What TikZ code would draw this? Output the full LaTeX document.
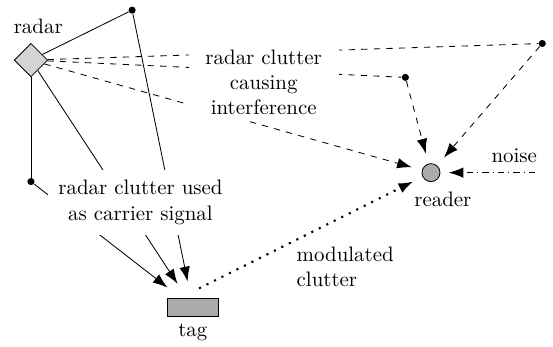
\documentclass[tikz,border=0pt]{standalone}
\usetikzlibrary{arrows.meta}
\usetikzlibrary{shapes.geometric}
\usetikzlibrary{positioning}
\usetikzlibrary{backgrounds}

\begin{document}
\begin{tikzpicture}[>={Latex[length=7pt,width=5pt]},
  scatterer/.style={circle, fill=black, inner sep=0, minimum size=3.4pt},
  covertext/.style={fill=white, align=center}]
\useasboundingbox (0,0) rectangle (9.29,5.82);
% radar, tag and reader
\node[diamond, draw, fill=black!17, inner sep=0, minimum size=16pt] (radar) at (0.52,4.81) {};
\node[above=1pt of radar, xshift=3.5pt] (radarlbl) {radar};
\node[rectangle, draw, fill=black!33, minimum width=24.4pt, minimum height=8.6pt, inner sep=0] (tag) at (3.24,0.66) {};
\node[below=0pt of tag] (taglbl) {tag};
\node[circle, draw, fill=black!33, minimum size=8.6pt, inner sep=0] (reader) at (7.24,2.92) {};
\node[below=1pt of reader, xshift=5.7pt] (readerlbl) {reader};
% scattering points
\node[scatterer] (sA) at (2.22,5.65) {};
\node[scatterer] (sB) at (0.52,2.77) {};
\node[scatterer] (sC) at (6.81,4.52) {};
\node[scatterer] (sD) at (9.11,5.09) {};
\coordinate (noisesrc) at (8.99,2.92);
% texts
\node[covertext, inner xsep=8pt, inner ysep=3pt] (intf) at (4.43,4.44) {radar clutter\\causing\\interference};
\node[covertext, inner xsep=5pt, inner ysep=5pt] (carrier) at (2.36,2.42) {radar clutter used\\as carrier signal};
\node[align=left, anchor=west] (modlbl) at (4.86,1.33) {modulated\\clutter};
\node (noiselbl) at (8.64,3.21) {noise};
\begin{scope}[on background layer]
\draw (radar) -- (sA);
\draw (radar) -- (sB);
\draw[->, shorten >=8pt] (sA) -- (tag);
\draw[->, shorten >=8pt] (sB) -- (tag);
\draw[->, shorten >=8pt] (radar) -- (tag);
\draw[dashed] (radar) -- (sC);
\draw[dashed] (radar) -- (sD);
\draw[dashed, ->, shorten >=5pt] (radar) -- (reader);
\end{scope}
\draw[dashed, ->, shorten >=5pt] (sC) -- (reader);
\draw[dashed, ->, shorten >=5pt] (sD) -- (reader);
\draw[dash dot, ->, shorten >=4pt] (noisesrc) -- (reader);
\draw[line width=1pt, dash pattern=on 1pt off 3pt, ->, shorten <=10pt, shorten >=5pt] ([xshift=-6pt]tag.north) -- (reader);
\end{tikzpicture}
\end{document}
